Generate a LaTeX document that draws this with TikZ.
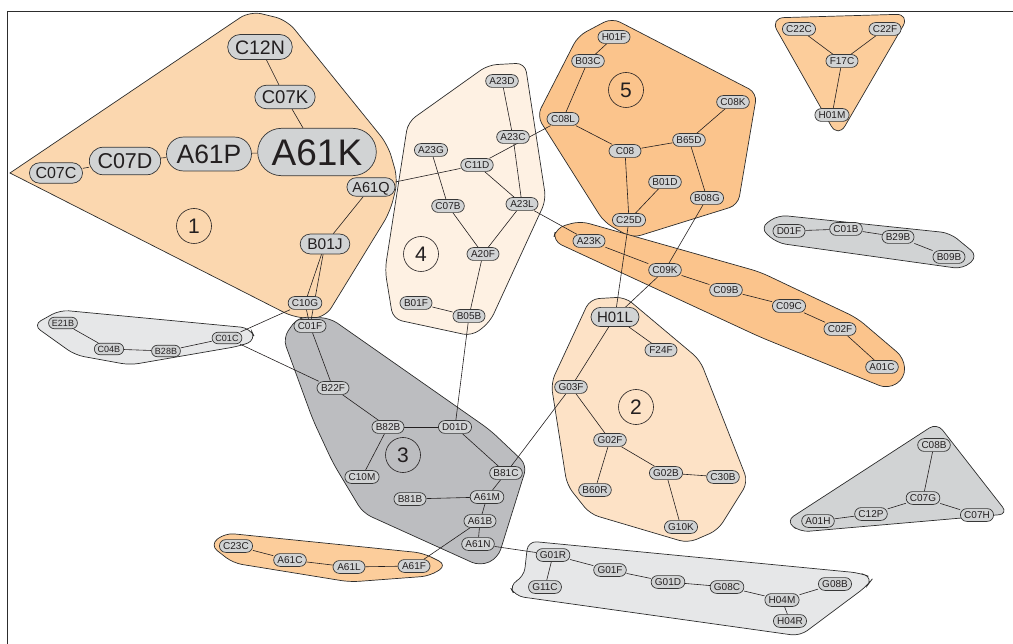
\documentclass[tikz,border=0pt]{standalone}
\usepackage{fontspec}
\setmainfont{Liberation Sans}
\usepackage{tikz}
\definecolor{peach}{RGB}{251, 215, 175}
\definecolor{apricot}{RGB}{251, 196, 140}
\definecolor{melon}{RGB}{252, 205, 155}
\definecolor{cream}{RGB}{253, 226, 198}
\definecolor{shell}{RGB}{254, 241, 227}
\definecolor{slate}{RGB}{188, 189, 192}
\definecolor{silver}{RGB}{209, 211, 212}
\definecolor{mist}{RGB}{230, 231, 232}
\definecolor{nodegray}{RGB}{209, 211, 212}
\definecolor{nodeline}{RGB}{55, 55, 55}
\definecolor{hullline}{RGB}{45, 45, 45}
\definecolor{ink}{RGB}{35, 31, 32}
\pgfdeclarelayer{hulls}
\pgfdeclarelayer{links}
\pgfsetlayers{hulls,links,main}

\begin{document}
\begin{tikzpicture}[x=1pt, y=-1pt,
  cls/.style={draw=nodeline, fill=nodegray, line width=0.7pt, text=ink,
    inner xsep=3.8pt, inner ysep=2.8pt, text height=7.2pt, text depth=0pt,
    minimum width=32pt, font=\fontsize{10}{12}\selectfont, rounded corners=6.4pt},
  clbig/.code={%
    \pgfmathsetlengthmacro\clh{0.72*#1pt}%
    \pgfmathsetlengthmacro\clx{0.38*#1pt}%
    \pgfmathsetlengthmacro\cly{0.28*#1pt}%
    \pgfmathsetlengthmacro\clr{0.64*#1pt}%
    \pgfmathsetlengthmacro\clw{3.2*#1pt}%
    \edef\clset{\noexpand\pgfkeysalso{/tikz/cls,
      /tikz/font=\noexpand\fontsize{#1}{#1}\noexpand\selectfont,
      /tikz/text height=\clh, /tikz/inner xsep=\clx, /tikz/inner ysep=\cly,
      /tikz/rounded corners=\clr, /tikz/minimum width=\clw}}\clset},
  cltiny/.style={clbig=9},
  hull/.style={draw=hullline, line width=0.7pt, rounded corners=9pt},
  link/.style={draw=ink, line width=0.6pt},
  tag/.style={circle, draw=ink, line width=0.6pt, minimum size=35pt, inner sep=0pt,
    text=ink, font=\fontsize{21}{21}\selectfont}]
\useasboundingbox (0,0) rectangle (1013,644);
\draw[hullline, line width=1pt] (7,644) -- (7,11.5) -- (1013,11.5);

% hulls
\begin{pgfonlayer}{hulls}
\draw[hull, fill=peach] (10,173) [rounded corners=12pt] -- (250,11) -- (287,20) -- (388,145) -- (398,180) -- (390,212) -- (325,318) -- (295,318) [sharp corners] -- cycle;
\draw[hull, fill=shell] (408,122) -- (488,65) -- (525,63) -- (546,200) -- (490,322) -- (472,336) -- (393,319) -- (385,270) -- cycle;
\draw[hull, fill=apricot] (612,18) -- (757,93) -- (738,205) -- (632,238) -- (604,222) -- (537,116) -- (578,36) -- cycle;
\draw[hull, fill=apricot] (553,241) -- (556,228) -- (580,221) -- (760,272) -- (857,318) -- (904,358) -- (905,378) -- (888,389) -- (760,337) -- cycle;
\draw[hull, fill=cream] (551,383) -- (590,299) -- (625,297) -- (700,360) -- (748,482) -- (718,530) -- (688,543) -- (590,514) -- (567,485) -- cycle;
\draw[hull, fill=slate] (283,338) -- (298,317) -- (330,318) -- (490,430) -- (527,465) -- (498,558) -- (480,566) -- (363,513) -- (333,463) -- (313,420) -- cycle;
\draw[hull, fill=silver] (760,228) -- (778,215) -- (950,233) -- (978,256) -- (963,269) -- (777,243) -- cycle;
\draw[hull, fill=melon, rounded corners=14pt] (770,18) -- (910,14) -- (838,138) -- cycle;
\draw[hull, fill=silver] (937,423) -- (1008,514) -- (800,532) -- (786,521) -- cycle;
\draw[hull, fill=mist] (33,325) -- (60,310) -- (250,328) -- (256,340) -- (240,346) -- (130,365) -- (75,355) -- cycle;
\draw[hull, fill=melon] (210,545) -- (225,533) -- (423,553) -- (447,565) -- (430,576) -- (350,582) -- (233,563) -- cycle;
\draw[hull, fill=mist] (528,541) -- (860,573) -- (873,578) -- (867,586) -- (800,636) -- (515,596) -- (509,585) -- (524,577) -- cycle;
\end{pgfonlayer}

% cluster 1
\node[clbig=19.5] (c12n) at (260,47) {C12N};
\node[clbig=18.5] (c07k) at (285,97) {C07K};
\node[clbig=37] (a61k) at (317,152) {A61K};
\node[clbig=26.5] (a61p) at (209,154) {A61P};
\node[clbig=21.5] (c07d) at (125,161) {C07D};
\node[clbig=16] (c07c) at (56,173) {C07C};
\node[clbig=14.5] (a61q) at (371,187) {A61Q};
\node[clbig=15.5] (b01j) at (325,244) {B01J};
\node[cls] (c10g) at (305,303) {C10G};
% cluster 3
\node[cls] (c01f) at (310,326) {C01F};
\node[cls] (b22f) at (333,388) {B22F};
\node[cls] (b82b) at (388,427) {B82B};
\node[cls] (d01d) at (455,427) {D01D};
\node[cls] (c10m) at (362,477) {C10M};
\node[cls] (b81c) at (506,473) {B81C};
\node[cls] (b81b) at (410,499) {B81B};
\node[cls] (a61m) at (487,497) {A61M};
\node[cls] (a61b) at (480,521) {A61B};
\node[cls] (a61n) at (478,544) {A61N};
% cluster 4
\node[cls] (a23d) at (502,81) {A23D};
\node[cls] (a23c) at (513,137) {A23C};
\node[cls] (a23g) at (431,150) {A23G};
\node[cls] (c11d) at (477,165) {C11D};
\node[cls] (c07b) at (448,206) {C07B};
\node[cls] (a23l) at (522,204) {A23L};
\node[cls] (a20f) at (483,254) {A20F};
\node[cls] (b01f) at (416,303) {B01F};
\node[cls] (b05b) at (469,316) {B05B};
% cluster 5
\node[cls] (h01f) at (614,37) {H01F};
\node[cls] (b03c) at (588,61) {B03C};
\node[cls] (c08l) at (563,119) {C08L};
\node[cls] (c08) at (625,151) {C08};
\node[cls] (b65d) at (689,140) {B65D};
\node[cls] (c08k) at (733,102) {C08K};
\node[cls] (b01d) at (665,182) {B01D};
\node[cls] (b08g) at (707,198) {B08G};
\node[cls] (c25d) at (629,220) {C25D};
% band C09
\node[cls] (a23k) at (589,241) {A23K};
\node[cls] (c09k) at (665,270) {C09K};
\node[cls] (c09b) at (726,290) {C09B};
\node[cls] (c09c) at (789,306) {C09C};
\node[cls] (c02f) at (840,329) {C02F};
\node[cls] (a01c) at (882,367) {A01C};
% cluster 2
\node[clbig=15] (h01l) at (615,317) {H01L};
\node[cls] (f24f) at (661,350) {F24F};
\node[cls] (g03f) at (571,387) {G03F};
\node[cls] (g02f) at (610,440) {G02F};
\node[cls] (b60r) at (595,490) {B60R};
\node[cls] (g02b) at (666,473) {G02B};
\node[cls] (c30b) at (723,477) {C30B};
\node[cls] (g10k) at (681,527) {G10K};
% small groups
\node[cls] (d01f) at (789,231) {D01F};
\node[cls] (c01b) at (846,229) {C01B};
\node[cls] (b29b) at (898,237) {B29B};
\node[cls] (b09b) at (949,257) {B09B};
\node[cls] (c22c) at (799,29) {C22C};
\node[cls] (c22f) at (885,29) {C22F};
\node[cls] (f17c) at (842,61) {F17C};
\node[cls] (h01m) at (832,115) {H01M};
\node[cls] (c08b) at (934,445) {C08B};
\node[cls] (c07g) at (923,498) {C07G};
\node[cls] (c12p) at (871,514) {C12P};
\node[cls] (a01h) at (818,521) {A01H};
\node[cls] (c07h) at (977,515) {C07H};
\node[cltiny] (e21b) at (63,323) {E21B};
\node[cltiny] (c04b) at (109,349) {C04B};
\node[cltiny] (b28b) at (166,351) {B28B};
\node[cltiny] (c01c) at (227,338) {C01C};
\node[cls] (c23c) at (236,546) {C23C};
\node[cls] (a61c) at (290,560) {A61C};
\node[cls] (a61l) at (349,567) {A61L};
\node[cls] (a61f) at (414,566) {A61F};
\node[cls] (g01r) at (553,555) {G01R};
\node[cls] (g11c) at (545,587) {G11C};
\node[cls] (g01f) at (610,570) {G01F};
\node[cls] (g01d) at (668,582) {G01D};
\node[cls] (g08c) at (727,587) {G08C};
\node[cls] (h04m) at (782,600) {H04M};
\node[cls] (g08b) at (835,584) {G08B};
\node[cls] (h04r) at (790,621) {H04R};

% group numbers
\node[tag] (t1) at (194,226) {1};
\node[tag] (t2) at (636,407) {2};
\node[tag] (t3) at (403,455) {3};
\node[tag] (t4) at (421,254) {4};
\node[tag] (t5) at (626,90) {5};

% links
\begin{pgfonlayer}{links}
\foreach \a/\b in {c07c/c07d, c07d/a61p, a61p/a61k, c12n/c07k, c07k/a61k,
    a61q/b01j, a61q/c11d, b01j/c10g, b01j/c01f, c10g/c01f, c10g/c01c,
    e21b/c04b, c04b/b28b, b28b/c01c, c01c/b22f,
    c01f/b22f, b22f/b82b, b82b/d01d, b82b/c10m, d01d/b81c, b81c/a61m,
    a61m/b81b, a61m/a61b, a61b/a61n, a61b/a61f, a61n/g01r, b81c/g03f, d01d/b05b,
    a23d/a23c, a23c/a23l, a23g/c07b, c11d/a23l, c11d/c08l, c07b/a20f,
    a23l/a20f, a20f/b05b, b01f/b05b, a23l/a23k,
    h01f/b03c, b03c/c08l, c08l/c08, c08/b65d, b65d/c08k, b65d/b08g,
    c08/c25d, b01d/c25d, b08g/c09k, c25d/h01l,
    a23k/c09k, c09k/c09b, c09b/c09c, c09c/c02f, c02f/a01c, c09k/h01l,
    h01l/f24f, h01l/g03f, g03f/g02f, g02f/b60r, g02f/g02b, g02b/c30b, g02b/g10k,
    d01f/c01b, c01b/b29b, b29b/b09b,
    c22c/f17c, c22f/f17c, f17c/h01m,
    c08b/c07g, c07g/c12p, c12p/a01h, c07g/c07h,
    c23c/a61c, a61c/a61l, a61l/a61f,
    g01r/g11c, g01r/g01f, g01f/g01d, g01d/g08c, g08c/h04m, h04m/g08b, h04m/h04r}
  \draw[link] (\a) -- (\b);
\end{pgfonlayer}
\end{tikzpicture}
\end{document}
